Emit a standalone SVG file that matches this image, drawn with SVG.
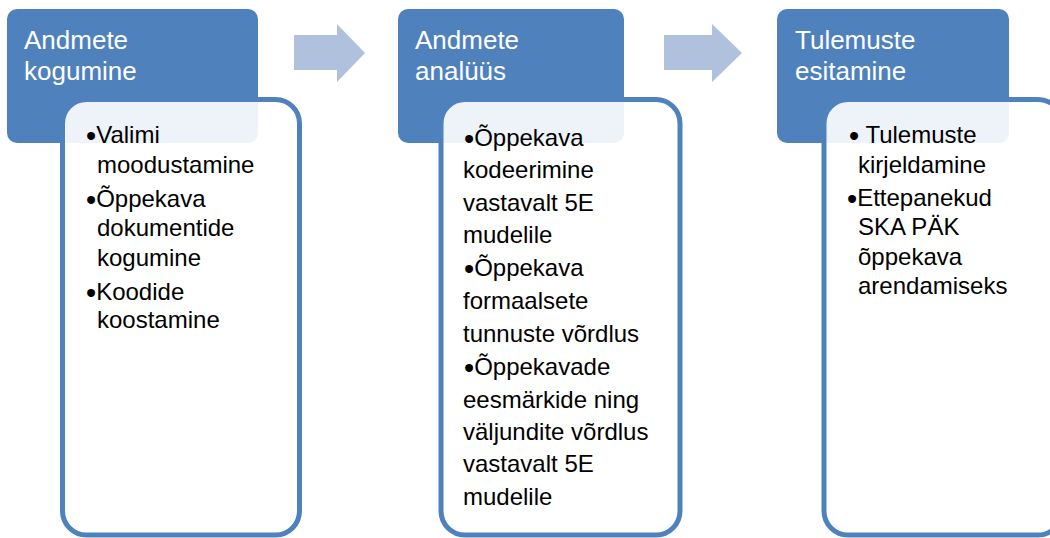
<svg xmlns="http://www.w3.org/2000/svg" width="1050" height="538" viewBox="0 0 1050 538">
<style>
.hdr{fill:#4F81BD}
.box{fill:#FFFFFF;fill-opacity:0.9;stroke:#4F81BD;stroke-width:5}
.arr{fill:#B0C1DE}
.ht{font-family:"Liberation Sans",Arial,sans-serif;font-size:26px;fill:#FFFFFF}
.bt{font-family:"Liberation Sans",Arial,sans-serif;font-size:24px;fill:#000000}
.bu{font-size:29px}
</style>
<rect width="1050" height="538" fill="#FFFFFF"/>
<g id="connectors">
<path class="arr" d="M294,35 H337 V24 L365,53 L337,82 V70 H294 Z"/>
<path class="arr" d="M664,35 H712 V24 L742,53 L712,82 V70 H664 Z"/>
</g>
<g id="node1">
<rect class="hdr" x="7" y="9" width="251" height="134" rx="10"/>
<text class="ht" x="24" y="49">Andmete</text>
<text class="ht" x="24" y="80">kogumine</text>
<rect class="box" x="62.5" y="99.5" width="237" height="435.5" rx="24"/>
<text class="bt" x="86" y="143"><tspan class="bu" dy="2.5">•</tspan><tspan dy="-2.5">Valimi</tspan></text>
<text class="bt" x="97" y="173">moodustamine</text>
<text class="bt" x="86" y="207"><tspan class="bu" dy="2.5">•</tspan><tspan dy="-2.5">Õppekava</tspan></text>
<text class="bt" x="97" y="236">dokumentide</text>
<text class="bt" x="97" y="266">kogumine</text>
<text class="bt" x="86" y="300"><tspan class="bu" dy="2.5">•</tspan><tspan dy="-2.5">Koodide</tspan></text>
<text class="bt" x="97" y="328">koostamine</text>
</g>
<g id="node2">
<rect class="hdr" x="398" y="9" width="226" height="134" rx="10"/>
<text class="ht" x="415" y="49">Andmete</text>
<text class="ht" x="415" y="80">analüüs</text>
<rect class="box" x="441" y="99.5" width="239" height="435.5" rx="24"/>
<text class="bt" x="464" y="146"><tspan class="bu" dy="2.5">•</tspan><tspan dy="-2.5">Õppekava</tspan></text>
<text class="bt" x="463" y="178">kodeerimine</text>
<text class="bt" x="463" y="211">vastavalt 5E</text>
<text class="bt" x="463" y="243">mudelile</text>
<text class="bt" x="464" y="276"><tspan class="bu" dy="2.5">•</tspan><tspan dy="-2.5">Õppekava</tspan></text>
<text class="bt" x="463" y="309">formaalsete</text>
<text class="bt" x="463" y="342">tunnuste võrdlus</text>
<text class="bt" x="464" y="375"><tspan class="bu" dy="2.5">•</tspan><tspan dy="-2.5">Õppekavade</tspan></text>
<text class="bt" x="463" y="408">eesmärkide ning</text>
<text class="bt" x="463" y="440">väljundite võrdlus</text>
<text class="bt" x="463" y="472">vastavalt 5E</text>
<text class="bt" x="463" y="505">mudelile</text>
</g>
<g id="node3">
<rect class="hdr" x="777" y="9" width="232" height="134" rx="10"/>
<text class="ht" x="795" y="49">Tulemuste</text>
<text class="ht" x="795" y="80">esitamine</text>
<rect class="box" x="824" y="99.5" width="238" height="435.5" rx="24"/>
<text class="bt" x="849" y="143"><tspan class="bu" dy="2.5">•</tspan><tspan dy="-2.5"> Tulemuste</tspan></text>
<text class="bt" x="858" y="173">kirjeldamine</text>
<text class="bt" x="847" y="206"><tspan class="bu" dy="2.5">•</tspan><tspan dy="-2.5">Ettepanekud</tspan></text>
<text class="bt" x="858" y="235">SKA PÄK</text>
<text class="bt" x="858" y="265">õppekava</text>
<text class="bt" x="858" y="294">arendamiseks</text>
</g>
</svg>
